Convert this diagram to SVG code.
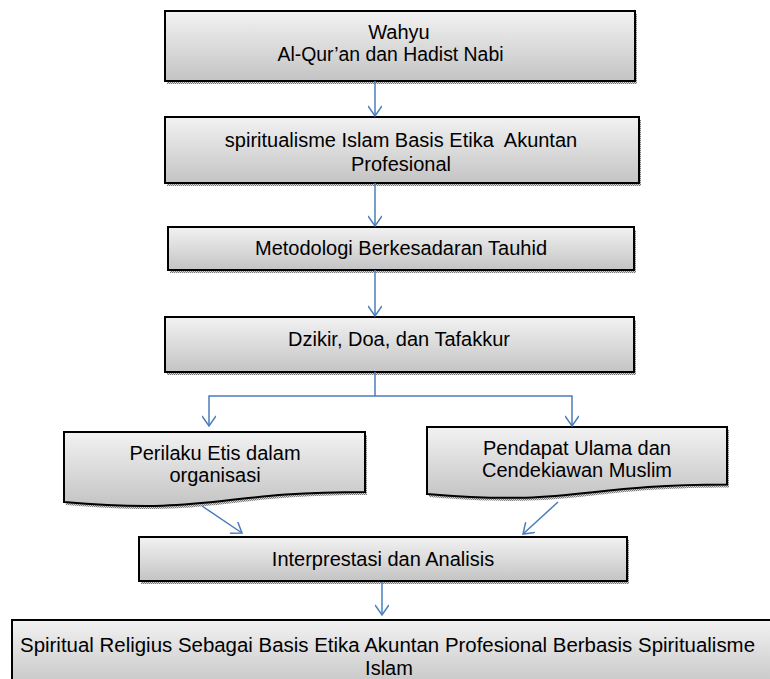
<svg xmlns="http://www.w3.org/2000/svg" width="770" height="679" viewBox="0 0 770 679">
<style>
.box{fill:url(#g);stroke:#000;stroke-width:2}
.sh{fill:url(#dots)}
.t{font-family:"Liberation Sans",Arial,sans-serif;font-size:20px;fill:#000;text-anchor:middle}
.c{fill:none;stroke:#4a7ebb;stroke-width:1.5}
</style>
<defs>
<linearGradient id="g" x1="0" y1="0" x2="0" y2="1">
<stop offset="0" stop-color="#f2f2f2"/>
<stop offset="1" stop-color="#c4c4c4"/>
</linearGradient>
<pattern id="dots" width="2" height="2" patternUnits="userSpaceOnUse">
<rect width="2" height="2" fill="#d8d8d8"/>
<rect width="1" height="1" fill="#777"/>
<rect x="1" y="1" width="1" height="1" fill="#777"/>
</pattern>
<marker id="a" markerWidth="14" markerHeight="14" refX="11" refY="7" orient="auto" markerUnits="userSpaceOnUse">
<path d="M1,0 L11,7 L1,14" fill="none" stroke="#4a7ebb" stroke-width="1.5"/>
</marker>
</defs>

<g id="n1">
<rect class="sh" x="167" y="14" width="470" height="70"/>
<rect class="box" x="165" y="11" width="470" height="70"/>
<text class="t" x="399" y="39">Wahyu</text>
<text class="t" x="390.5" y="61" style="font-size:19.4px">Al-Qur’an dan Hadist Nabi</text>
</g>
<g id="n2">
<rect class="sh" x="167" y="120" width="474" height="66"/>
<rect class="box" x="165" y="117" width="474" height="66"/>
<text class="t" x="401" y="147" xml:space="preserve">spiritualisme Islam Basis Etika  Akuntan</text>
<text class="t" x="401" y="171">Profesional</text>
</g>
<g id="n3">
<rect class="sh" x="170" y="230" width="466" height="43"/>
<rect class="box" x="168" y="227" width="466" height="43"/>
<text class="t" x="401" y="255">Metodologi Berkesadaran Tauhid</text>
</g>
<g id="n4">
<rect class="sh" x="167" y="320" width="469" height="55"/>
<rect class="box" x="165" y="317" width="469" height="55"/>
<text class="t" x="399" y="346">Dzikir, Doa, dan Tafakkur</text>
</g>
<g id="n5">
<path class="sh" d="M66,435 H367 V495 C216.5,495 216.5,518 66,505 Z"/>
<path class="box" d="M64,432 H365 V492 C214.5,492 214.5,515 64,502 Z"/>
<text class="t" x="215" y="460">Perilaku Etis dalam</text>
<text class="t" x="215" y="482">organisasi</text>
</g>
<g id="n6">
<path class="sh" d="M429,430 H729 V487.5 C579,487.5 579,509.6 429,497 Z"/>
<path class="box" d="M427,427 H727 V484.5 C577,484.5 577,506.6 427,494 Z"/>
<text class="t" x="577" y="455">Pendapat Ulama dan</text>
<text class="t" x="577" y="477">Cendekiawan Muslim</text>
</g>
<g id="n7">
<rect class="sh" x="141" y="540" width="488" height="44"/>
<rect class="box" x="139" y="537" width="488" height="44"/>
<text class="t" x="383" y="566">Interprestasi dan Analisis</text>
</g>
<g id="n8">
<rect class="box" x="12" y="620" width="770" height="70"/>
<text class="t" x="387.5" y="652" textLength="735" lengthAdjust="spacingAndGlyphs">Spiritual Religius Sebagai Basis Etika Akuntan Profesional Berbasis Spiritualisme</text>
<text class="t" x="389" y="675">Islam</text>
</g>

<g id="connectors">
<path class="c" d="M375,81 V116" marker-end="url(#a)"/>
<path class="c" d="M375,183 V226" marker-end="url(#a)"/>
<path class="c" d="M375,270 V316" marker-end="url(#a)"/>
<path class="c" d="M375,372 V396"/>
<path class="c" d="M375,396 H209 V426" marker-end="url(#a)"/>
<path class="c" d="M375,396 H572 V426" marker-end="url(#a)"/>
<path class="c" d="M202,506 L242,533" marker-end="url(#a)"/>
<path class="c" d="M558,502 L523,534" marker-end="url(#a)"/>
<path class="c" d="M382,582 V615" marker-end="url(#a)"/>
</g>
</svg>
